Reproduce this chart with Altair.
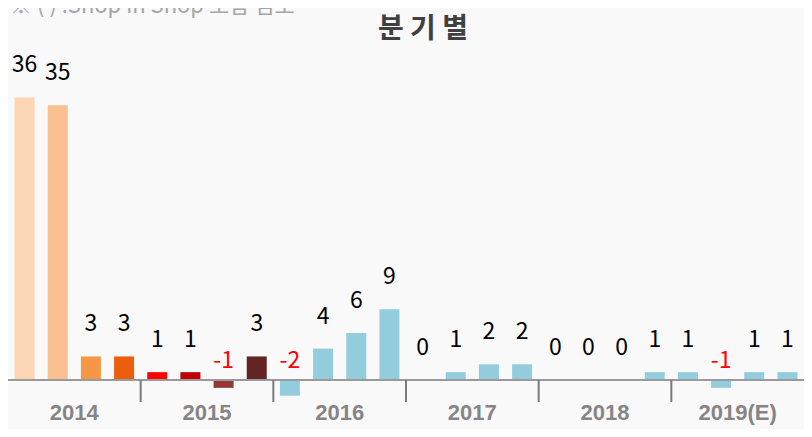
import altair as alt
import pandas as pd

years = ["2014", "2015", "2016", "2017", "2018", "2019(E)"]
quarters = ["1Q", "2Q", "3Q", "4Q"]
values = [36, 35, 3, 3,
          1, 1, -1, 3,
          -2, 4, 6, 9,
          0, 1, 2, 2,
          0, 0, 0, 1,
          1, -1, 1, 1]
bar_colors = ["#FCD5B5", "#FAC090", "#F79646", "#EC5E0C",
              "#FF0000", "#C00000", "#953735", "#632523"] + ["#93CDDD"] * 16
title_text = ["분 기 별"]
note_text = ["※ ( ) :Shop in Shop 포함 검토"]

keys = [f"{y}-{q}" for y in years for q in quarters]
df = pd.DataFrame({
    "key": keys,
    "year": [y for y in years for q in quarters],
    "value": values,
})
df["label"] = df["value"].astype(str)
df["pos"] = df["value"].clip(lower=0)
df["zero"] = 0

sep_df = pd.DataFrame({"key": [f"{y}-1Q" for y in years[1:]]})
year_df = pd.DataFrame({"key": [f"{y}-3Q" for y in years], "year": years})

W, H = 796, 421
BASE_Y = 372
PX_PER_UNIT = 7.85
xscale = alt.Scale(domain=keys, paddingInner=0, paddingOuter=0)
yscale = alt.Scale(domain=[-(H - BASE_Y) / PX_PER_UNIT, BASE_Y / PX_PER_UNIT],
                   nice=False, zero=False)

base = alt.Chart(df)

bars = base.mark_bar(size=20).encode(
    x=alt.X("key:N", scale=xscale, axis=None),
    y=alt.Y("value:Q", scale=yscale, axis=None),
    color=alt.Color("key:N", scale=alt.Scale(domain=keys, range=bar_colors), legend=None),
)

pos_labels = base.transform_filter("datum.value >= 0").mark_text(
    dy=-32, baseline="middle", align="center", fontSize=23,
    font="Noto Sans CJK KR", color="#000000"
).encode(
    x=alt.X("key:N", scale=xscale, axis=None),
    y=alt.Y("value:Q", scale=yscale, axis=None),
    text="label:N",
)

neg_labels = base.transform_filter("datum.value < 0").mark_text(
    dy=-19, baseline="middle", align="center", fontSize=23,
    font="Noto Sans CJK KR", color="#FF0000"
).encode(
    x=alt.X("key:N", scale=xscale, axis=None),
    y=alt.Y("pos:Q", scale=yscale, axis=None),
    text="label:N",
)

axis_line = base.transform_filter("datum.key == '2014-1Q'").mark_rule(
    color="#9a9a9a", strokeWidth=2
).encode(
    y=alt.Y("zero:Q", scale=yscale, axis=None),
    x=alt.value(0),
    x2=alt.value(W),
)

seps = alt.Chart(sep_df).mark_rule(color="#7a7a7a", strokeWidth=2).encode(
    x=alt.X("key:N", scale=xscale, bandPosition=0, axis=None),
    y=alt.value(BASE_Y),
    y2=alt.value(BASE_Y + 22),
)

year_labels = alt.Chart(year_df).mark_text(
    fontSize=22, fontWeight="bold", font="Liberation Sans", color="#858585",
    baseline="middle", align="center"
).encode(
    x=alt.X("key:N", scale=xscale, bandPosition=0, axis=None),
    y=alt.value(BASE_Y + 33),
    text="year:N",
)

title = alt.Chart(pd.DataFrame({"t": title_text})).mark_text(
    fontSize=28, fontWeight="bold", font="Noto Sans CJK KR", color="#404040",
    baseline="middle", align="center"
).encode(x=alt.value(415), y=alt.value(22), text="t:N")

note = alt.Chart(pd.DataFrame({"t": note_text})).mark_text(
    fontSize=22, font="Noto Sans CJK KR", color="#a6a6a6",
    baseline="alphabetic", align="left"
).encode(x=alt.value(2), y=alt.value(5), text="t:N")

chart = alt.layer(
    bars, axis_line, seps, pos_labels, neg_labels, year_labels, title, note
).properties(
    width=W, height=H,
    autosize=alt.AutoSizeParams(type="none"),
    padding={"left": 0, "top": 0, "right": 0, "bottom": 0},
    background="#f9f9f9",
).configure_view(stroke=None)

chart.save("out.html", embed_options={"renderer": "svg", "actions": False})
